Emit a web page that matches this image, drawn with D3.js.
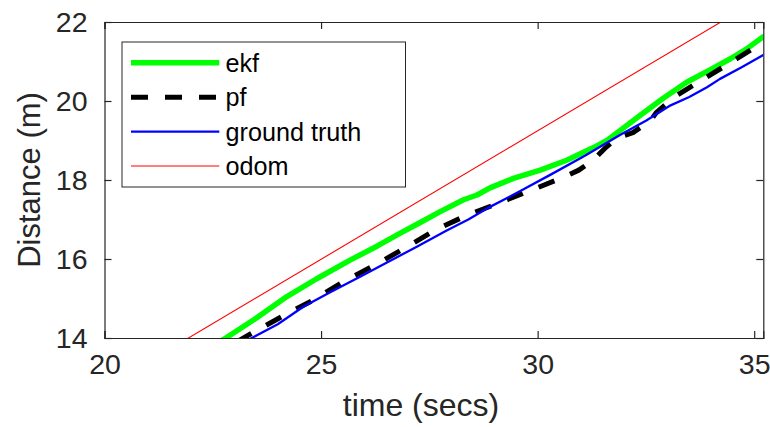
<!DOCTYPE html>
<html>
<head>
<meta charset="utf-8">
<script src="https://cdn.jsdelivr.net/npm/d3@7"></script>
<style>
  html, body { margin: 0; padding: 0; background: #fff; }
  svg { display: block; font-family: "Liberation Sans", Arial, Helvetica, sans-serif; }
</style>
</head>
<body>
<svg id="chart" width="770" height="427"></svg>
<script>
// Distance estimates over time for each localisation method
const ekfTime = [22.65, 22.8, 23.5, 24.21, 24.9, 25.67, 26.3, 26.82, 27.3, 27.75, 28.29, 28.6, 28.9, 29.44, 30.06, 30.67, 31.29, 31.6, 31.9, 32.37, 32.9, 33.45, 34.0, 34.45, 34.8, 35.2, 35.4];
const ekfDist = [13.9, 14.0, 14.5, 15.05, 15.5, 15.97, 16.33, 16.65, 16.93, 17.2, 17.5, 17.62, 17.8, 18.04, 18.25, 18.5, 18.82, 19.0, 19.25, 19.64, 20.07, 20.48, 20.8, 21.07, 21.3, 21.62, 21.75];

const pfTime = [23.05, 23.4, 24.09, 24.82, 25.52, 26.25, 26.94, 27.63, 28.37, 29.09, 29.87, 30.6, 30.95, 31.29, 31.55, 31.83, 32.2, 32.6, 32.75, 33.21, 33.91, 34.6, 35.2, 35.4];
const pfDist = [13.9, 14.12, 14.54, 14.96, 15.43, 15.85, 16.28, 16.73, 17.11, 17.41, 17.75, 18.07, 18.25, 18.51, 18.8, 19.06, 19.2, 19.5, 19.72, 20.14, 20.61, 21.07, 21.49, 21.62];

const truthTime = [23.25, 23.4, 24.0, 24.59, 25.2, 25.9, 26.5, 27.21, 27.9, 28.4, 28.9, 29.6, 30.29, 31.1, 31.9, 32.5, 33.07, 33.5, 33.91, 34.21, 34.7, 35.2, 35.4];
const truthDist = [13.9, 14.0, 14.35, 14.79, 15.15, 15.55, 15.9, 16.31, 16.72, 17.0, 17.32, 17.72, 18.13, 18.62, 19.14, 19.5, 19.89, 20.1, 20.35, 20.56, 20.85, 21.16, 21.28];

const odomTime = [21.8, 34.4];
const odomDist = [13.91, 22.11];

const xTicks = [20, 25, 30, 35];
const yTicks = [14, 16, 18, 20, 22];
const legendLabels = ["ekf", "pf", "ground truth", "odom"];

const svg = d3.select("#chart");
const margin = { left: 104.5, right: 6.7, top: 22, bottom: 89 };
const W = 770, H = 427;
const plotW = W - margin.left - margin.right;
const plotH = H - margin.top - margin.bottom;

const x = d3.scaleLinear().domain([20, 35.21]).range([margin.left, margin.left + plotW]);
const y = d3.scaleLinear().domain([14, 22]).range([margin.top + plotH, margin.top]);

const axisColor = "#262626";

svg.append("defs").append("clipPath").attr("id", "plotClip")
  .append("rect")
  .attr("x", margin.left).attr("y", margin.top)
  .attr("width", plotW).attr("height", plotH);

const zip = (t, v) => t.map((d, i) => [d, v[i]]);

const series = [
  { name: legendLabels[0], data: zip(ekfTime, ekfDist), color: "#00ff00", width: 5.5, dash: null },
  { name: legendLabels[1], data: zip(pfTime, pfDist), color: "#000000", width: 5, dash: "17,17" },
  { name: legendLabels[2], data: zip(truthTime, truthDist), color: "#0000ff", width: 2.3, dash: null },
  { name: legendLabels[3], data: zip(odomTime, odomDist), color: "#ff0000", width: 1.1, dash: null }
];

const line = d3.line().x(d => x(d[0])).y(d => y(d[1]));

// Series are drawn in legend order, later ones on top
const plot = svg.append("g").attr("clip-path", "url(#plotClip)");
series.forEach(s => {
  plot.append("path")
    .attr("d", line(s.data))
    .attr("fill", "none")
    .attr("stroke", s.color)
    .attr("stroke-width", s.width)
    .attr("stroke-dasharray", s.dash)
    .attr("stroke-linejoin", "round");
});

// Axes (boxed, inward ticks on all four sides)
const tickLen = 7;
const fontTick = 28.5;

const xAxisB = d3.axisBottom(x).tickValues(xTicks).tickSize(-tickLen).tickPadding(16).tickFormat(d3.format("d"));
const xAxisT = d3.axisTop(x).tickValues(xTicks).tickSize(-tickLen).tickFormat("");
const yAxisL = d3.axisLeft(y).tickValues(yTicks).tickSize(-tickLen).tickPadding(17).tickFormat(d3.format("d"));
const yAxisR = d3.axisRight(y).tickValues(yTicks).tickSize(-tickLen).tickFormat("");

function styleAxis(g) {
  g.select(".domain").attr("stroke", axisColor).attr("stroke-width", 1.2);
  g.selectAll(".tick line").attr("stroke", axisColor).attr("stroke-width", 1.2);
  g.selectAll(".tick text").attr("fill", axisColor).attr("font-size", fontTick)
    .attr("font-family", "Liberation Sans, Arial, sans-serif");
}

svg.append("g").attr("transform", `translate(0,${margin.top + plotH})`).call(xAxisB).call(styleAxis);
svg.append("g").attr("transform", `translate(0,${margin.top})`).call(xAxisT).call(styleAxis);
svg.append("g").attr("transform", `translate(${margin.left},0)`).call(yAxisL).call(styleAxis);
svg.append("g").attr("transform", `translate(${margin.left + plotW},0)`).call(yAxisR).call(styleAxis);

// Axis labels
svg.append("text")
  .attr("x", 421).attr("y", 416)
  .attr("text-anchor", "middle")
  .attr("font-size", 32).attr("fill", axisColor)
  .text("time (secs)");

svg.append("text")
  .attr("transform", `translate(40,${margin.top + plotH / 2}) rotate(-90)`)
  .attr("text-anchor", "middle")
  .attr("font-size", 31).attr("fill", axisColor)
  .text("Distance (m)");

// Legend
const legend = svg.append("g");
legend.append("rect")
  .attr("x", 122).attr("y", 42).attr("width", 283.5).attr("height", 145)
  .attr("fill", "#fff").attr("stroke", axisColor).attr("stroke-width", 1);

const rowY = d3.scalePoint().domain(legendLabels).range([62.7, 166]);
series.forEach(s => {
  const ry = rowY(s.name);
  legend.append("line")
    .attr("x1", 131).attr("x2", 219.3).attr("y1", ry).attr("y2", ry)
    .attr("stroke", s.color).attr("stroke-width", s.width)
    .attr("stroke-dasharray", s.dash);
  legend.append("text")
    .attr("x", 225.5).attr("y", ry).attr("dy", "0.36em")
    .attr("font-size", 25.2).attr("fill", "#000")
    .text(s.name);
});
</script>
</body>
</html>
